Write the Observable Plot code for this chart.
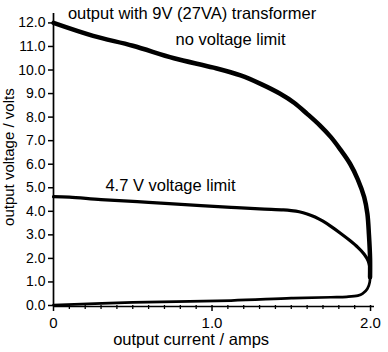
<!DOCTYPE html>
<html><head><meta charset="utf-8">
<script src="https://cdn.jsdelivr.net/npm/d3@7"></script>
<script src="https://cdn.jsdelivr.net/npm/@observablehq/plot@0.6"></script>
<style>body{margin:0;background:#fff}</style>
</head><body><div id="chart"></div>
<script>
const noLimitX = [0, 0.25, 0.5, 0.76, 1.01, 1.18, 1.31, 1.43, 1.52, 1.6, 1.68, 1.75, 1.81, 1.87, 1.92, 1.96, 1.98, 1.99, 1.997, 1.997];
const noLimitY = [12.0, 11.45, 11.03, 10.5, 10.1, 9.77, 9.4, 8.99, 8.6, 8.14, 7.65, 7.15, 6.62, 6.03, 5.35, 4.6, 3.9, 3.0, 2.0, 1.2];
const returnX = [1.997, 1.995, 1.98, 1.95, 1.92, 1.85, 1.75, 1.5, 1.12, 0.5, 0];
const returnY = [1.6, 1.0, 0.71, 0.5, 0.42, 0.37, 0.35, 0.31, 0.21, 0.13, 0.02];
const limitX = [0, 0.1, 0.3, 0.6, 0.93, 1.12, 1.3, 1.45, 1.5, 1.55, 1.6, 1.65, 1.7, 1.75, 1.81, 1.87, 1.92, 1.96, 1.985, 1.997];
const limitY = [4.62, 4.6, 4.5, 4.38, 4.24, 4.17, 4.1, 4.06, 4.03, 3.98, 3.89, 3.76, 3.58, 3.36, 3.07, 2.76, 2.47, 2.18, 1.9, 1.6];
const yTicks = [0,1,2,3,4,5,6,7,8,9,10,11,12];
const xTicks = [0, 1, 2];
const xTickLabels = ["0", "1.0", "2.0"];
const xMinor = [0.1,0.2,0.3,0.4,0.5,0.6,0.7,0.8,0.9,1.1,1.2,1.3,1.4,1.5,1.6,1.7,1.8,1.9];
const title = "output with 9V (27VA) transformer";
const xTitle = "output current / amps";
const yTitle = "output voltage / volts";
const labels = [
  {x: 1.117, y: 11.27, t: "no voltage limit"},
  {x: 0.738, y: 5.07, t: "4.7 V voltage limit"}
];

const toPts = (xs, ys) => xs.map((x, i) => ({x, y: ys[i]}));
const font = "Liberation Sans, Arial, Helvetica, sans-serif";

const chart = Plot.plot({
  width: 388, height: 352,
  marginLeft: 53, marginRight: 14, marginTop: 13, marginBottom: 47,
  style: {fontFamily: font, fontSize: "15px", color: "#000", background: "#fff"},
  x: {domain: [0, 2.025], axis: null},
  y: {domain: [0, 12.4], axis: null},
  marks: [
    Plot.ruleX([0], {stroke: "#000", strokeWidth: 1.7}),
    Plot.ruleY([0], {stroke: "#000", strokeWidth: 1.7, dy: 1}),
    Plot.axisY({ticks: yTicks, label: null, tickSize: 5, tickPadding: 3, tickFormat: d => d.toFixed(1), fontSize: 14, strokeWidth: 1.5}),
    Plot.axisX({ticks: xTicks, label: null, tickSize: 6, tickPadding: 6, tickFormat: d => xTickLabels[xTicks.indexOf(d)], fontSize: 15, strokeWidth: 1.5}),
    Plot.ruleX(xMinor, {x: d => d, y1: 0, y2: -0.17, stroke: "#000", strokeWidth: 1.3}),
    Plot.line(toPts(noLimitX, noLimitY), {x: "x", y: "y", curve: "catmull-rom", stroke: "#000", strokeWidth: 4.5, strokeLinecap: "round"}),
    Plot.line(toPts(returnX, returnY), {x: "x", y: "y", curve: "catmull-rom", stroke: "#000", strokeWidth: 2.7, strokeLinecap: "round"}),
    Plot.line(toPts(limitX, limitY), {x: "x", y: "y", curve: "catmull-rom", stroke: "#000", strokeWidth: 3.2, strokeLinecap: "round"}),
    Plot.text(labels, {x: "x", y: "y", text: "t", fontSize: 16.5, fill: "#000"}),
    Plot.text([title], {x: 0.874, y: 12.41, text: d => d, fontSize: 16.5, fill: "#000"}),
    Plot.text([xTitle], {x: 0.868, y: -1.47, text: d => d, fontSize: 16.5, fill: "#000"}),
    Plot.text([yTitle], {x: -0.28, y: 6.3, text: d => d, fontSize: 15, fill: "#000", rotate: -90})
  ]
});
document.getElementById("chart").appendChild(chart);
</script>
</body></html>
